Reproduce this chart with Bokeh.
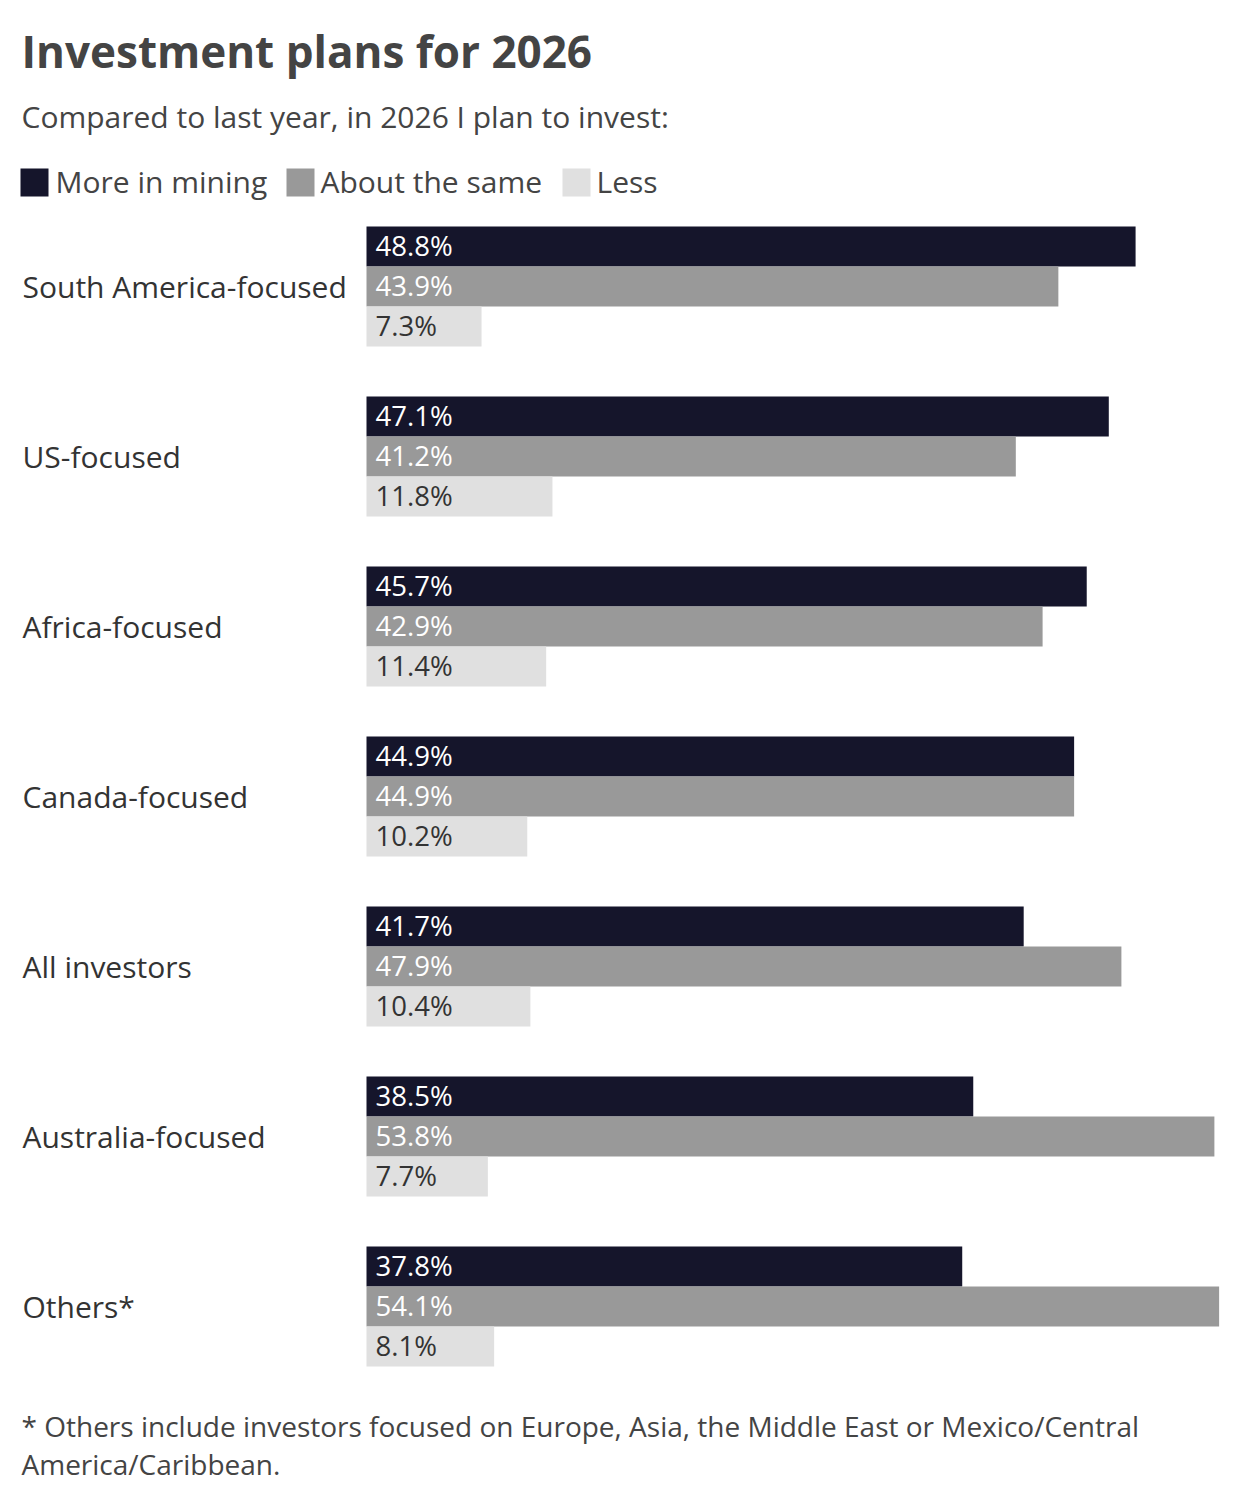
from bokeh.plotting import figure
from bokeh.models import Range1d, ColumnDataSource
from bokeh.core.properties import value
from bokeh.embed import file_html
from bokeh.resources import INLINE

# ---------------- data ----------------
categories = ["South America-focused", "US-focused", "Africa-focused", "Canada-focused",
              "All investors", "Australia-focused", "Others*"]
series_names = ["More in mining", "About the same", "Less"]
more_in_mining = [48.8, 47.1, 45.7, 44.9, 41.7, 38.5, 37.8]
about_the_same = [43.9, 41.2, 42.9, 44.9, 47.9, 53.8, 54.1]
less = [7.3, 11.8, 11.4, 10.2, 10.4, 7.7, 8.1]

title_text = "Investment plans for 2026"
subtitle_text = "Compared to last year, in 2026 I plan to invest:"
footnote_lines = ["* Others include investors focused on Europe, Asia, the Middle East or Mexico/Central",
                  "America/Caribbean."]

# ---------------- layout ----------------
W, H = 1232, 1494
X0 = 366            # canvas px where 0% sits
PX_PER = 15.76      # px per percentage point
GROUP_TOP = 226
GROUP_STEP = 170
BAR_H = 40

colors = ["#15152b", "#999999", "#e0e0e0"]
label_colors = ["#ffffff", "#ffffff", "#333333"]
FONT = "Open Sans"


def xd(px):
    return (px - X0) / PX_PER


p = figure(width=W, height=H, output_backend="svg", toolbar_location=None,
           x_range=Range1d(xd(0), xd(W)), y_range=Range1d(H, 0),
           x_axis_type=None, y_axis_type=None, min_border=0)
p.outline_line_color = None
p.xgrid.visible = False
p.ygrid.visible = False
p.background_fill_color = "white"
p.border_fill_color = "white"

all_series = [more_in_mining, about_the_same, less]
for j, vals in enumerate(all_series):
    ys = [GROUP_TOP + GROUP_STEP * i + BAR_H * j + BAR_H / 2 for i in range(len(categories))]
    src = ColumnDataSource(dict(y=ys, ly=[y - 1.5 for y in ys], right=vals,
                                lab=[f"{v:.1f}%" for v in vals]))
    p.hbar(y="y", left=0, right="right", height=BAR_H, color=colors[j], line_color=None, source=src)
    p.text(x=9 / PX_PER, y="ly", text="lab", source=src, text_font=value(FONT),
           text_font_size="27.5px", text_color=label_colors[j], text_baseline="middle")

# category labels
cy = [GROUP_TOP + GROUP_STEP * i + BAR_H * 1.5 for i in range(len(categories))]
p.text(x=[xd(22)] * len(categories), y=cy, text=categories, text_font=value(FONT),
       text_font_size="30px", text_color="#333333", text_baseline="middle")

# title & subtitle
p.text(x=[xd(21)], y=[50.5], text=[title_text], text_font=value(FONT), text_font_style="bold",
       text_font_size="44px", text_color="#444444", text_baseline="middle")
p.text(x=[xd(21)], y=[116], text=[subtitle_text], text_font=value(FONT),
       text_font_size="30px", text_color="#444444", text_baseline="middle")

# legend
sq_x = [34, 300, 576]
tx_x = [55, 320, 596]
p.scatter(x=[xd(v) for v in sq_x], y=[182] * 3, marker="square", size=28,
          color=colors, line_color=None)
p.text(x=[xd(v) for v in tx_x], y=[180.5] * 3, text=series_names, text_font=value(FONT),
       text_font_size="30px", text_color="#444444", text_baseline="middle")

# footnote
p.text(x=[xd(21)] * 2, y=[1425, 1463], text=footnote_lines, text_font=value(FONT),
       text_font_size="28px", text_color="#444444", text_baseline="middle")

open("out.html", "w").write(file_html(p, INLINE))
